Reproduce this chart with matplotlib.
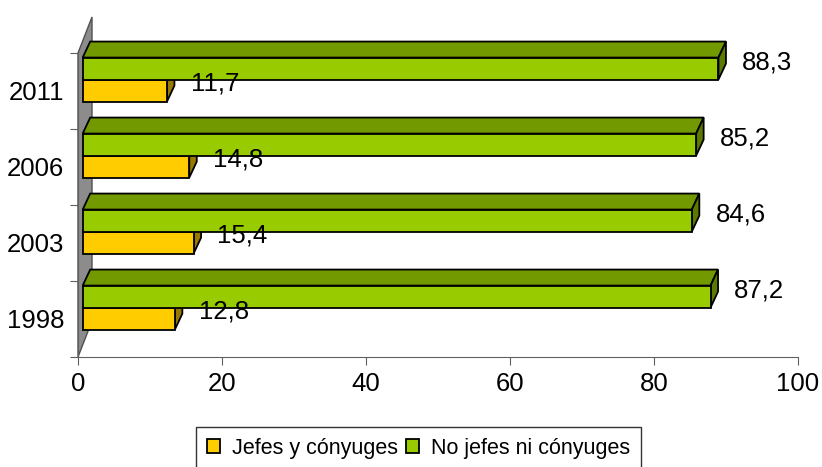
import matplotlib
matplotlib.use('Agg')
import matplotlib.pyplot as plt
from matplotlib.patches import Polygon, Patch

# ---- data ----
years = ['1998', '2003', '2006', '2011']
jefes = [12.8, 15.4, 14.8, 11.7]
no_jefes = [87.2, 84.6, 85.2, 88.3]
series_names = ['Jefes y cónyuges', 'No jefes ni cónyuges']
x_ticks = [0, 20, 40, 60, 80, 100]

def fmt(v):
    return f"{v:.1f}".replace('.', ',')

plt.rcParams['font.family'] = ['Liberation Sans', 'DejaVu Sans']

W, H = 822, 467
fig = plt.figure(figsize=(W / 100, H / 100), dpi=100)
L, R, B, T = 78, 798, 357, 53
ax = fig.add_axes([L / W, 1 - B / H, (R - L) / W, (B - T) / H])
n = len(years)
ax.set_xlim(0, 100)
ax.set_ylim(0, n)
PX = 100 / (R - L)
PY = n / (B - T)

yel_front, yel_top, yel_side = '#FFCC00', '#CCA300', '#997A00'
grn_front, grn_top, grn_side = '#99CC00', '#739900', '#5C7A00'
wall_c = '#8C8C8C'
axis_c = '#606060'

# side wall (floor of horizontal 3D bar chart)
wdx, wdy = 14 * PX, 36 * PY
ax.add_patch(Polygon([(0, 0), (0, n), (wdx, n + wdy), (wdx, wdy)], closed=True,
                     fc=wall_c, ec='#505050', lw=1.0, clip_on=False, zorder=1))

bx = 4.7 * PX          # front plane offset of bars
ddx, ddy = 7.5 * PX, 16 * PY   # bar depth


def box(x0, x1, y0, y1, front, top, side, z):
    kw = dict(closed=True, ec='black', lw=1.3, clip_on=False, joinstyle='miter')
    ax.add_patch(Polygon([(x0, y1), (x1, y1), (x1 + ddx, y1 + ddy), (x0 + ddx, y1 + ddy)],
                         fc=top, zorder=z, **kw))
    ax.add_patch(Polygon([(x1, y0), (x1 + ddx, y0 + ddy), (x1 + ddx, y1 + ddy), (x1, y1)],
                         fc=side, zorder=z, **kw))
    ax.add_patch(Polygon([(x0, y0), (x1, y0), (x1, y1), (x0, y1)],
                         fc=front, zorder=z + 0.1, **kw))


fs = 18.5
for i in range(n):
    y_a, y_b, y_c = i + 0.36, i + 0.65, i + 0.94
    box(bx, bx + jefes[i], y_a, y_b, yel_front, yel_top, yel_side, 3)
    box(bx, bx + no_jefes[i], y_b, y_c, grn_front, grn_top, grn_side, 4)
    ax.text(bx + jefes[i] + 3.3, i + 0.60, fmt(jefes[i]), ha='left', va='center',
            fontsize=fs, zorder=6)
    ax.text(bx + no_jefes[i] + 3.3, i + 0.88, fmt(no_jefes[i]), ha='left', va='center',
            fontsize=fs, zorder=6)

# axes styling
for s in ['top', 'right']:
    ax.spines[s].set_visible(False)
ax.spines['left'].set_color(axis_c)
ax.spines['bottom'].set_color(axis_c)
ax.spines['left'].set_zorder(2)
ax.set_xticks(x_ticks)
ax.set_xticklabels([str(t) for t in x_ticks], fontsize=fs)
ax.tick_params(axis='x', direction='out', length=6, color=axis_c, pad=5)
ax.set_yticks(range(n + 1))
ax.set_yticklabels([])
ax.tick_params(axis='y', which='major', direction='out', length=6, color=axis_c)
ax.set_yticks([i + 0.5 for i in range(n)], minor=True)
ax.set_yticklabels(years, minor=True, fontsize=fs)
ax.tick_params(axis='y', which='minor', length=0, pad=10)
ax.patch.set_alpha(0)

handles = [Patch(fc=yel_front, ec='black', lw=1.3), Patch(fc=grn_front, ec='black', lw=1.3)]
leg = fig.legend(handles, series_names, loc='upper left', bbox_to_anchor=(196 / W, 1 - 427 / H),
                 ncol=2, frameon=True, fancybox=False, edgecolor='black', fontsize=15.5,
                 handlelength=0.6, handleheight=0.6, handletextpad=0.55, columnspacing=0.4,
                 borderpad=0.5, borderaxespad=0)
leg.get_frame().set_linewidth(1.0)

fig.savefig('out.png', dpi=100)
